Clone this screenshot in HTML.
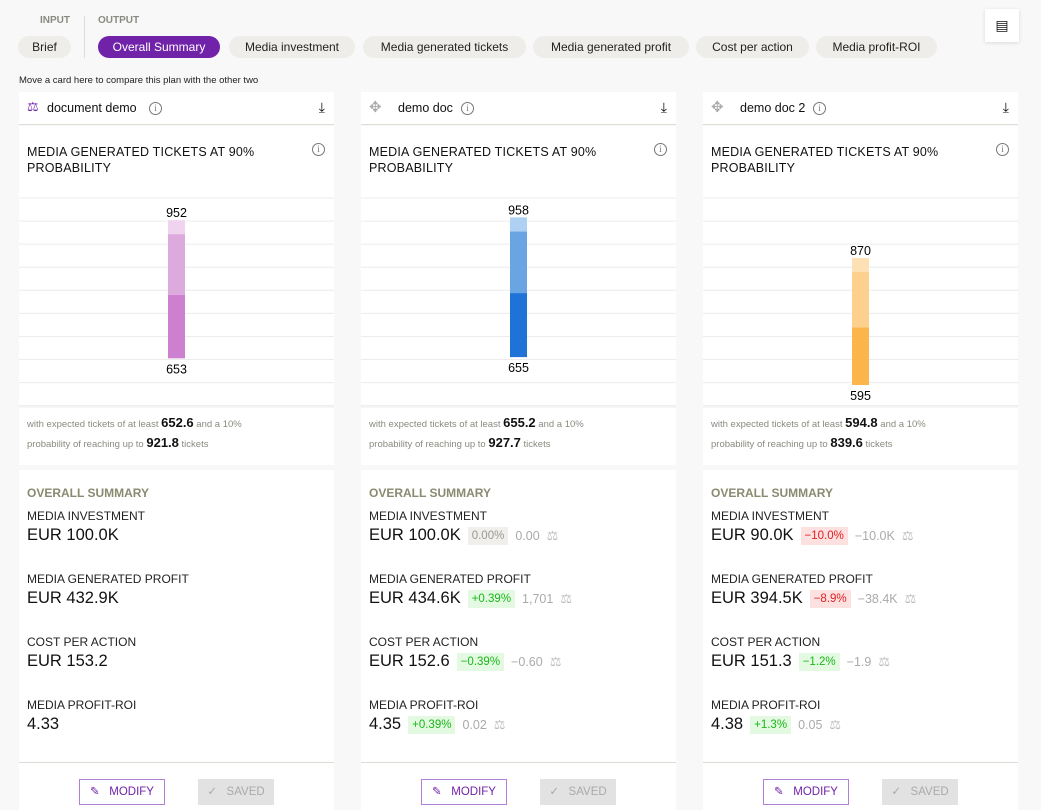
<!DOCTYPE html>
<html><head><meta charset="utf-8">
<style>
*{box-sizing:border-box;margin:0;padding:0}
body{width:1041px;height:810px;background:#f8f8f8;font-family:"Liberation Sans",sans-serif;color:#111;position:relative;overflow:hidden}
.abs{position:absolute}
.lbl{font-size:10px;font-weight:bold;color:#8a8a80;top:15px}
.tab{position:absolute;top:36px;height:22px;border-radius:11px;background:#eeede9;font-size:12px;line-height:22px;text-align:center;color:#222}
.card{position:absolute;width:315px;background:#fff}
.hdr{top:92px;height:33px;border-bottom:1px solid #dcdcd4}
.chart{top:126px;height:339px}
.sum{top:470px;height:340px}
.title{position:absolute;left:8px;top:18px;font-size:12.5px;line-height:16px;letter-spacing:.2px}
.info{position:absolute;width:13px;height:13px;border:1px solid #777;border-radius:50%;font-size:9px;line-height:11px;text-align:center;color:#777;font-family:"Liberation Serif",serif}
.note{position:absolute;left:8px;top:288px;font-size:9.5px;color:#8a8a80;line-height:18px}
.note b{font-size:13px;color:#111}
.st{position:absolute;left:8px;top:16px;font-size:12px;font-weight:bold;color:#8a8a70}
.ml{position:absolute;left:8px;font-size:12px;color:#222}
.mv{position:absolute;left:8px;font-size:16.5px;color:#111;display:flex;align-items:center;gap:7px;white-space:nowrap}
.pc{font-size:11.5px;padding:3px 4px}
.g{background:#e3f9e1;color:#1ab81a}.r{background:#fde0e0;color:#e02020}.n{background:#f0efeb;color:#999}
.dl{font-size:12.5px;color:#aaa}
.bal{font-size:13px;color:#bbb}
.foot{position:absolute;left:0;top:292px;width:315px;border-top:1px solid #dcdcd4}
.mod{position:absolute;left:60px;top:309px;width:86px;height:26px;border:1px solid #b07fd6;color:#7022a8;font-size:11.5px;line-height:24px;text-align:center}
.sav{position:absolute;left:179px;top:309px;width:76px;height:26px;background:#e2e2e2;color:#aaa;font-size:11.5px;line-height:26px;text-align:center}
</style></head><body>
<div class="abs lbl" style="left:40px">INPUT</div>
<div class="abs lbl" style="left:98px">OUTPUT</div>
<div class="abs" style="left:84px;top:16px;width:1px;height:42px;background:#ddd"></div>
<div class="tab" style="left:18px;width:53px">Brief</div>
<div class="tab" style="left:98px;width:122px;background:#7022a8;color:#fff">Overall Summary</div>
<div class="tab" style="left:229px;width:126px">Media investment</div>
<div class="tab" style="left:363px;width:163px">Media generated tickets</div>
<div class="tab" style="left:533px;width:156px">Media generated profit</div>
<div class="tab" style="left:696px;width:113px">Cost per action</div>
<div class="tab" style="left:816px;width:121px">Media profit-ROI</div>
<div class="abs" style="left:985px;top:9px;width:34px;height:33px;background:#fff;box-shadow:0 1px 4px rgba(0,0,0,.12);font-size:14px;text-align:center;line-height:33px">&#9636;</div>
<div class="abs" style="left:19px;top:75px;font-size:9.5px;color:#222">Move a card here to compare this plan with the other two</div>
<div id="cards"></div>
<script>
const cardNames=["document demo","demo doc","demo doc 2"];
const p10=[652.6,655.2,594.8];
const p50=[790,794,720];
const p90=[921.8,927.7,839.6];
const pmax=[952,958,870];
const topLabels=["952","958","870"];
const botLabels=["653","655","595"];
const colors=[["#cc80cf","#dcaadd","#f0d3ee"],["#1f73d6","#6aa5e3","#aed0f2"],["#fbb54a","#fdd08e","#fde1b5"]];
const gridVals=[1000,950,900,850,800,750,700,650,600,550];
const metricLabels=["MEDIA INVESTMENT","MEDIA GENERATED PROFIT","COST PER ACTION","MEDIA PROFIT-ROI"];
const metricVals=[["EUR 100.0K","EUR 432.9K","EUR 153.2","4.33"],["EUR 100.0K","EUR 434.6K","EUR 152.6","4.35"],["EUR 90.0K","EUR 394.5K","EUR 151.3","4.38"]];
const pcts=[[null,null,null,null],["0.00%","+0.39%","\u22120.39%","+0.39%"],["\u221210.0%","\u22128.9%","\u22121.2%","+1.3%"]];
const pctCls=[[null,null,null,null],["n","g","g","g"],["r","r","g","g"]];
const deltas=[[null,null,null,null],["0.00","1,701","\u22120.60","0.02"],["\u221210.0K","\u221238.4K","\u22121.9","0.05"]];
function yS(v){return 72+(1000-v)*0.4615;}
const root=document.getElementById('cards');
const lefts=[19,361,703];
const infoLeft=[130,100,110];
for(let i=0;i<3;i++){
  const L=lefts[i];
  const h=document.createElement('div');h.className='card hdr';h.style.left=L+'px';
  
  
  h.innerHTML=(i==0?'<span style="position:absolute;left:8px;top:7px;color:#7022a8;font-size:13px">&#9878;</span>':'<span style="position:absolute;left:8px;top:6px;color:#aaa;font-size:15px">&#10021;</span>')+
   '<span style="position:absolute;left:'+(i==0?28:37)+'px;top:9px;font-size:12.5px">'+cardNames[i]+'</span>'+
   '<span class="info" style="left:'+infoLeft[i]+'px;top:10px">i</span>'+
   '<span style="position:absolute;right:9px;top:7px;font-size:14px">&#10515;</span>';
  root.appendChild(h);
  const c=document.createElement('div');c.className='card chart';c.style.left=L+'px';
  
  
  let s='<div class="title">MEDIA GENERATED TICKETS AT 90%<br>PROBABILITY</div><span class="info" style="right:9px;top:17px">i</span>';
  s+='<svg width="315" height="290" style="position:absolute;left:0;top:0">';
  gridVals.forEach(g=>{s+='<line x1="0" x2="315" y1="'+yS(g)+'" y2="'+yS(g)+'" stroke="#ececec"/>';});
  s+='<line x1="0" x2="315" y1="281" y2="281" stroke="#ececec"/>';
  const segs=[[p10[i],p50[i]],[p50[i],p90[i]],[p90[i],pmax[i]]];
  segs.forEach((sg,k)=>{s+='<rect x="149" width="17" y="'+yS(sg[1])+'" height="'+(yS(sg[0])-yS(sg[1]))+'" fill="'+colors[i][k]+'"/>';});
  s+='<text x="157.5" y="'+(yS(pmax[i])-3)+'" text-anchor="middle" font-size="12.5">'+topLabels[i]+'</text>';
  s+='<text x="157.5" y="'+(yS(p10[i])+15)+'" text-anchor="middle" font-size="12.5">'+botLabels[i]+'</text>';
  s+='</svg><div class="note">with expected tickets of at least <b>'+p10[i].toFixed(1)+'</b> and a 10%<br>probability of reaching up to <b>'+p90[i].toFixed(1)+'</b> tickets</div>';
  c.innerHTML=s;root.appendChild(c);
  const m=document.createElement('div');m.className='card sum';m.style.left=L+'px';
  
  
  let t='<div class="st">OVERALL SUMMARY</div>';
  for(let r=0;r<4;r++){
    t+='<div class="ml" style="top:'+(39+r*63)+'px">'+metricLabels[r]+'</div>';
    t+='<div class="mv" style="top:'+(56+r*63)+'px"><span>'+metricVals[i][r]+'</span>';
    if(pcts[i][r]) t+='<span class="pc '+pctCls[i][r]+'">'+pcts[i][r]+'</span><span class="dl">'+deltas[i][r]+'</span><span class="bal">&#9878;</span>';
    t+='</div>';
  }
  t+='<div class="foot"></div><div class="mod">&#9998;&nbsp;&nbsp;&nbsp;MODIFY</div><div class="sav">&#10003;&nbsp;&nbsp;&nbsp;SAVED</div>';
  m.innerHTML=t;root.appendChild(m);
}
</script>
</body></html>
